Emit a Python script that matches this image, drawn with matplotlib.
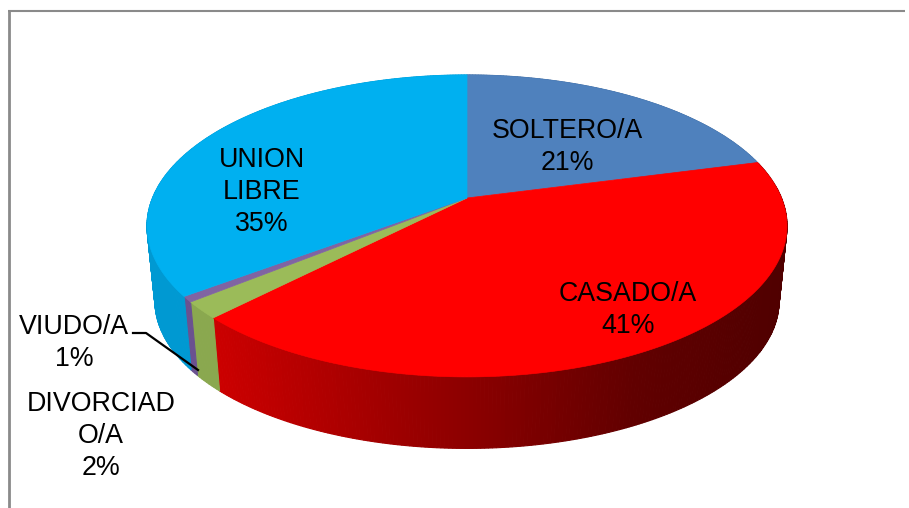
import numpy as np
import matplotlib
matplotlib.use('Agg')
import matplotlib.pyplot as plt
from matplotlib.colors import LinearSegmentedColormap
from matplotlib.patches import Polygon

categories = ['SOLTERO/A', 'CASADO/A', 'DIVORCIADO/A', 'VIUDO/A', 'UNION LIBRE']
values = [20.9, 41.45, 1.8, 0.6, 35.25]
labels = ['SOLTERO/A\n21%', 'CASADO/A\n41%', 'DIVORCIAD\nO/A\n2%', 'VIUDO/A\n1%', 'UNION\nLIBRE\n35%']
label_x = [567, 628, 101, 74, 262]
label_y = [147, 310, 436, 343, 192]
top_colors = ['#4f81bd', '#ff0000', '#9bbb59', '#8064a2', '#00b0f0']

CX, CY = 467, 198
A, B, K = 314.5, 145.8, 0.185
DEPTH, SCALE = 76, 0.975


def project(angle, scale=1.0, dy=0.0):
    """ angle in radians clockwise from the top of the pie """
    u, v = np.sin(angle), np.cos(angle)
    w = 1 + K * v
    return CX + scale * A * u / w, CY + dy - scale * B * v / w


# side wall colour for each slice, gets darker to the right
side_cmaps = [
    LinearSegmentedColormap.from_list('s', ['#3f6a9e', '#3f6a9e']),
    LinearSegmentedColormap.from_list('c', ['#cc0000', '#a80000', '#840000', '#600000', '#500000']),
    LinearSegmentedColormap.from_list('d', ['#8aa84f', '#8aa84f']),
    LinearSegmentedColormap.from_list('v', ['#6a5190', '#6a5190']),
    LinearSegmentedColormap.from_list('u', ['#0091c8', '#00a0dc']),
]

fig = plt.figure(figsize=(9.09, 5.08), dpi=100)
ax = fig.add_axes([0, 0, 1, 1])
ax.set_xlim(0, 909)
ax.set_ylim(508, 0)
ax.axis('off')

# chart frame
ax.plot([9, 9], [508, 11], color='#8a8a8a', lw=2, solid_capstyle='butt')
ax.plot([8, 905], [11, 11], color='#8a8a8a', lw=1.5, solid_capstyle='butt')

edges = np.cumsum([0] + values) / sum(values) * 2 * np.pi

# side walls first, the top face covers whatever faces away
for i in range(len(values)):
    t = np.linspace(edges[i], edges[i + 1], max(4, int(values[i] * 6)))
    x1, y1 = project(t)
    x2, y2 = project(t, SCALE, DEPTH)
    for j in range(len(t) - 1):
        f = np.clip((x1[j] - 213) / (787 - 213), 0, 1) if i == 1 else 0.5
        c = side_cmaps[i](f)
        ax.add_patch(Polygon([(x1[j], y1[j]), (x1[j + 1], y1[j + 1]), (x2[j + 1], y2[j + 1]), (x2[j], y2[j])],
                             fc=c, ec=c, lw=0.8, zorder=2))

# top face
for i in range(len(values)):
    t = np.linspace(edges[i], edges[i + 1], max(8, int(values[i] * 6)))
    x1, y1 = project(t)
    pts = [(CX, CY)] + list(zip(x1, y1))
    ax.add_patch(Polygon(pts, fc=top_colors[i], ec=top_colors[i], lw=0.5, zorder=3))

for i in range(len(values)):
    ax.text(label_x[i], label_y[i], labels[i], ha='center', va='center', fontsize=19.3,
            family='Liberation Sans', color='black', linespacing=1.3, zorder=5)

# leader line of the small slice
ax.plot([133, 146, 198], [333, 333, 370], color='black', lw=1.6, zorder=4)

fig.savefig('out.png', dpi=100)
